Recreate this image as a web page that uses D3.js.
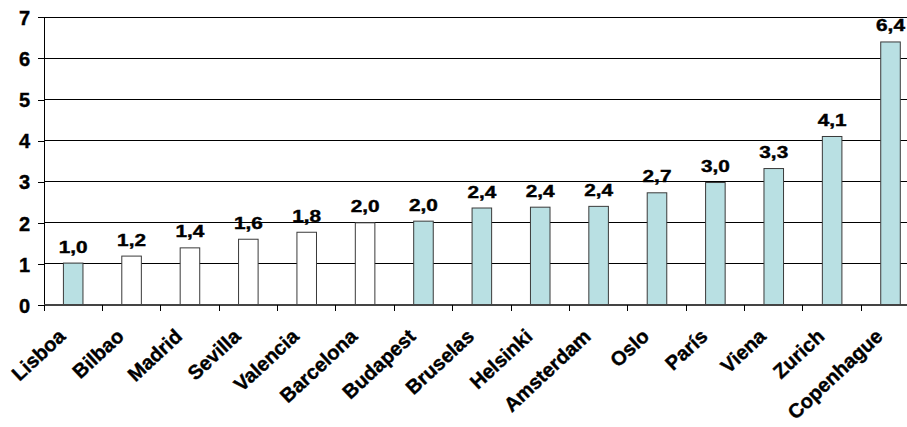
<!DOCTYPE html>
<html>
<head>
<meta charset="utf-8">
<script src="https://cdn.jsdelivr.net/npm/d3@7"></script>
<style>
  html, body { margin: 0; padding: 0; background: #fff; }
  svg { display: block; font-family: "Liberation Sans", Arial, sans-serif; font-weight: bold; }
  text { stroke: #000; stroke-width: 0.4px; }
</style>
</head>
<body>
<svg id="chart" width="907" height="427"></svg>
<script>
const categories = ["Lisboa","Bilbao","Madrid","Sevilla","Valencia","Barcelona","Budapest","Bruselas","Helsinki","Amsterdam","Oslo","París","Viena","Zurich","Copenhague"];
const values = [1.02, 1.19, 1.39, 1.6, 1.77, 2.0, 2.04, 2.36, 2.38, 2.4, 2.73, 2.98, 3.32, 4.1, 6.4];
const valueLabels = ["1,0","1,2","1,4","1,6","1,8","2,0","2,0","2,4","2,4","2,4","2,7","3,0","3,3","4,1","6,4"];
const highlighted = [true,false,false,false,false,false,true,true,true,true,true,true,true,true,true];
const yTicks = [0,1,2,3,4,5,6,7];

const svg = d3.select("#chart");
const mLeft = 44, mRight = 919.7, mTop = 17.3, mBottom = 305;

const x = d3.scaleBand().domain(categories).range([mLeft, mRight]).paddingInner(0.665).paddingOuter(0.3325);
const y = d3.scaleLinear().domain([0, 7]).range([mBottom, mTop]);
const step = x.step(), bw = x.bandwidth();

// gridlines
svg.append("g").selectAll("line").data(yTicks.filter(d => d > 0)).join("line")
  .attr("x1", mLeft).attr("x2", mRight)
  .attr("y1", d => y(d)).attr("y2", d => y(d))
  .attr("stroke", "#000").attr("stroke-width", 1).attr("shape-rendering", "crispEdges");

// y axis
const yAxis = d3.axisLeft(y).tickValues(yTicks).tickSize(6).tickPadding(10).tickFormat(d3.format("d"));
const yg = svg.append("g").attr("transform", `translate(${mLeft},0)`).call(yAxis)
  .attr("font-size", 20).attr("font-family", "Liberation Sans, Arial, sans-serif").attr("font-weight", "bold");
yg.select(".domain").remove();
yg.selectAll(".tick line").attr("stroke", "#000").attr("shape-rendering", "crispEdges");
yg.selectAll(".tick text").style("font-size", "20px").style("font-weight", "bold")
  .attr("fill", "#000").attr("x", -14).attr("dy", "0.36em");
svg.append("line").attr("x1", mLeft).attr("x2", mLeft).attr("y1", y(7)).attr("y2", mBottom)
  .attr("stroke", "#000").attr("stroke-width", 1).attr("shape-rendering", "crispEdges");

// bars
svg.append("g").selectAll("rect").data(categories).join("rect")
  .attr("x", d => x(d)).attr("width", bw)
  .attr("y", (d, i) => y(values[i])).attr("height", (d, i) => mBottom - y(values[i]))
  .attr("fill", (d, i) => highlighted[i] ? "#B9E0E3" : "#FFFFFF")
  .attr("stroke", "#3a3a3a").attr("stroke-width", 1);

// x axis line
svg.append("line").attr("x1", mLeft).attr("x2", mRight).attr("y1", mBottom).attr("y2", mBottom)
  .attr("stroke", "#444").attr("stroke-width", 2);

// x ticks at band boundaries
const bounds = categories.map(d => x(d) + bw / 2 - step / 2).concat([mRight]);
svg.append("g").selectAll("line").data(bounds).join("line")
  .attr("x1", d => d).attr("x2", d => d).attr("y1", mBottom).attr("y2", mBottom + 6)
  .attr("stroke", "#000").attr("shape-rendering", "crispEdges");

// value labels
svg.append("g").selectAll("text").data(categories).join("text")
  .attr("transform", (d, i) => `translate(${x(d) + bw / 2},${y(values[i]) - 10.5}) scale(1.3,1)`)
  .attr("text-anchor", "middle").style("font-size", "16px").attr("fill", "#000")
  .text((d, i) => valueLabels[i]);

// category labels
svg.append("g").selectAll("text").data(categories).join("text")
  .attr("transform", d => `translate(${x(d) + bw / 2 - 6.5},${mBottom + 33}) rotate(-43)`)
  .attr("text-anchor", "end").style("font-size", "20px").attr("fill", "#000")
  .text(d => d);
</script>
</body>
</html>
